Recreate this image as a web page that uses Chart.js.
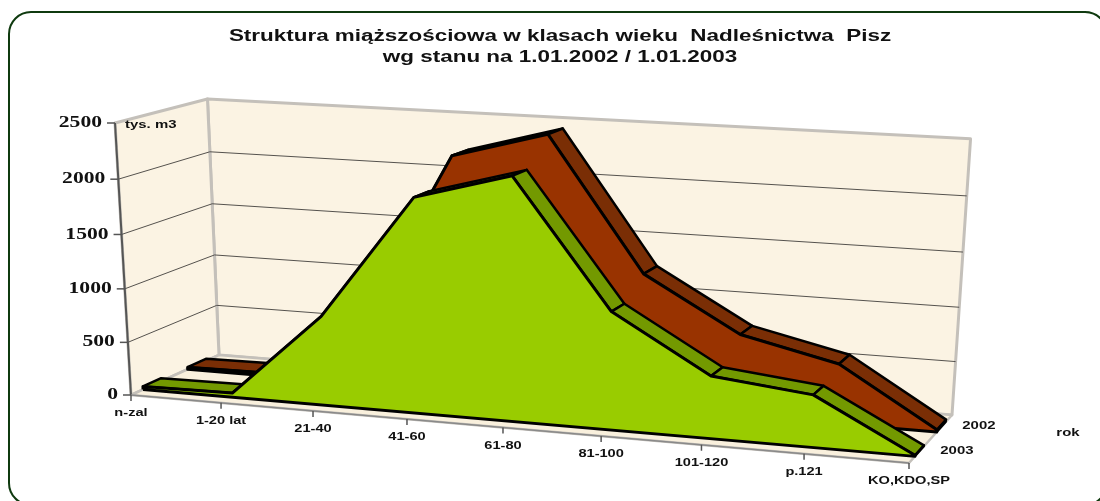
<!DOCTYPE html>
<html><head><meta charset="utf-8">
<script src="https://cdn.jsdelivr.net/npm/chart.js@4"></script>
<style>
html,body{margin:0;padding:0;background:#fff;width:1100px;height:501px;overflow:hidden;position:relative}
#frame{position:absolute;left:8px;top:11px;width:1096px;height:491px;border:2.5px solid #0f3a0f;border-radius:23px;box-sizing:content-box}
#wrap{position:absolute;left:0;top:0;width:1120px;height:501px}
</style></head><body>
<div id="frame"></div>
<div id="wrap"><canvas id="c" width="1120" height="501"></canvas></div>
<script>
const titleLines = ['Struktura miąższościowa w klasach wieku  Nadleśnictwa  Pisz','wg stanu na 1.01.2002 / 1.01.2003'];
const categories = ['n-zal','1-20 lat','21-40','41-60','61-80','81-100','101-120','p.121','KO,KDO,SP'];
const values2002 = [20,30,640,2200,2440,1240,750,550,20];
const values2003 = [30,40,830,1960,2200,1070,565,470,10];
const yTicks = [0,500,1000,1500,2000,2500];
const seriesNames = ['2002','2003'];
const unitLabel = 'tys. m3';
const depthLabel = 'rok';

// 3D view of the plot box: pixel positions of its corners (box frame, not data)
const view = {fl:[131,395],fr:[909,463],br:[952,415],bl:[219,355],tl:[115,123],persp:-0.04};
const yMax = 2500;
const depth2003 = [0.13,0.33], depth2002 = [0.63,0.85];
const C = {wall:'#FBF3E3',side:'#FBF3E3',floor:'#F9F0DD',edge:'#C4C0BA',grid:'#55524e',axis:'#555555',
  f02:'#993300',r02:'#7A2E05',f03:'#99CC00',r03:'#739900',ink:'#000'};

const P = (()=>{const {fl:a,fr:b,br:c,bl:d,tl:t,persp:i}=view;
  const sx=a[0]-b[0]+c[0]-d[0],sy=a[1]-b[1]+c[1]-d[1],dx1=b[0]-c[0],dx2=d[0]-c[0],dy1=b[1]-c[1],dy2=d[1]-c[1];
  const den=dx1*dy2-dx2*dy1,g=(sx*dy2-dx2*sy)/den,h=(dx1*sy-sx*dy1)/den;
  const A=[b[0]-a[0]+g*b[0],b[1]-a[1]+g*b[1]],B=[d[0]-a[0]+h*d[0],d[1]-a[1]+h*d[1]],Z=[t[0]*(1+i)-a[0],t[1]*(1+i)-a[1]];
  return (u,dp,v)=>{const w=1+g*u+h*dp+i*v;return {x:(a[0]+A[0]*u+B[0]*dp+Z[0]*v)/w,y:(a[1]+A[1]*u+B[1]*dp+Z[1]*v)/w};};
})();
const U = k=>k/(categories.length-1), V = val=>val/yMax;

const ds=[];
const poly=(pts,fill,line,width)=>ds.push({data:[...pts,pts[0]],showLine:true,fill:'shape',backgroundColor:fill,borderColor:line,borderWidth:width,pointRadius:0,borderJoinStyle:'round'});
const seg=(pts,line,width)=>ds.push({data:pts,showLine:true,fill:false,borderColor:line,borderWidth:width,pointRadius:0});

// walls and floor
poly([P(0,1,0),P(1,1,0),P(1,1,1),P(0,1,1)],C.wall,C.edge,3);
poly([P(0,0,0),P(0,1,0),P(0,1,1),P(0,0,1)],C.side,C.edge,3);
poly([P(0,0,0),P(1,0,0),P(1,1,0),P(0,1,0)],C.floor,C.edge,2.5);
yTicks.slice(1,-1).forEach(t=>seg([P(0,0,V(t)),P(0,1,V(t)),P(1,1,V(t))],C.grid,1));
// axes and ticks
seg([P(0,0,0),P(0,0,1)],C.axis,2);
seg([P(0,0,0),P(1,0,0)],'#8a8a8a',1.5);
yTicks.forEach(t=>{const p=P(0,0,V(t));seg([{x:p.x-8,y:p.y},p],C.axis,1.5);});
categories.forEach((c,k)=>{const p=P(U(k),0,0);seg([p,{x:p.x,y:p.y+6}],C.axis,1.5);});

function area(vals,[d0,d1],front,ribbon){
  const top=(k,d)=>P(U(k),d,V(vals[k]));
  // ribbons along the top of the series
  for(let k=0;k<vals.length-1;k++) poly([top(k,d0),top(k+1,d0),top(k+1,d1),top(k,d1)],ribbon,C.ink,2.5);
  // closing end at the last category
  const L=vals.length-1;
  poly([P(1,d0,0),top(L,d0),top(L,d1),P(1,d1,0)],'#111',C.ink,2);
  // front face
  const face=vals.map((_,k)=>top(k,d0));
  poly([P(0,d0,0),...face,P(1,d0,0)],front,C.ink,3);
}
area(values2002,depth2002,C.f02,C.r02);
area(values2003,depth2003,C.f03,C.r03);
ds.reverse(); // Chart.js paints the first dataset last

const textPlugin={id:'texts',
  beforeDraw(chart){const c=chart.ctx;c.save();c.translate(560,0);c.scale(1.36,1);c.translate(-560,0);},
  beforeDatasetsDraw(chart){chart.ctx.restore();},
  afterDatasetsDraw(chart){
  const ctx=chart.ctx;ctx.save();ctx.fillStyle='#111';ctx.textBaseline='middle';
  const put=(s,x,y,sx,align)=>{ctx.save();ctx.translate(x,y);ctx.scale(sx,1);ctx.textAlign=align;ctx.fillText(s,0,0);ctx.restore();};
  ctx.font='bold 16px "Liberation Serif"';
  yTicks.forEach(t=>{const p=P(0,0,V(t));put(String(t),p.x-13,p.y,1.35,'right');});
  ctx.font='bold 11.5px "Liberation Sans"';
  categories.forEach((c,k)=>{const p=P(U(k),0,0);put(c,p.x,p.y+18,1.27,'center');});
  put(unitLabel,125,125,1.3,'left');
  [depth2002,depth2003].forEach((d,n)=>{const p=P(1,(d[0]+d[1])/2,0);put(seriesNames[n],p.x+37.5,p.y-1,1.3,'center');});
  put(depthLabel,1068,433,1.3,'center');
  ctx.restore();
}};

new Chart(document.getElementById('c'),{
  type:'scatter',
  data:{datasets:ds},
  plugins:[textPlugin],
  options:{responsive:false,animation:false,events:[],
    layout:{padding:0},
    scales:{x:{type:'linear',display:false,min:0,max:1120},
            y:{type:'linear',display:false,reverse:true,min:70,max:501}},
    plugins:{legend:{display:false},tooltip:{enabled:false},
      title:{display:true,text:titleLines,color:'#111',font:{family:'"Liberation Sans"',size:16.5,weight:'bold',lineHeight:'21px'},padding:{top:26,bottom:2}}}}
});
</script>
</body></html>
